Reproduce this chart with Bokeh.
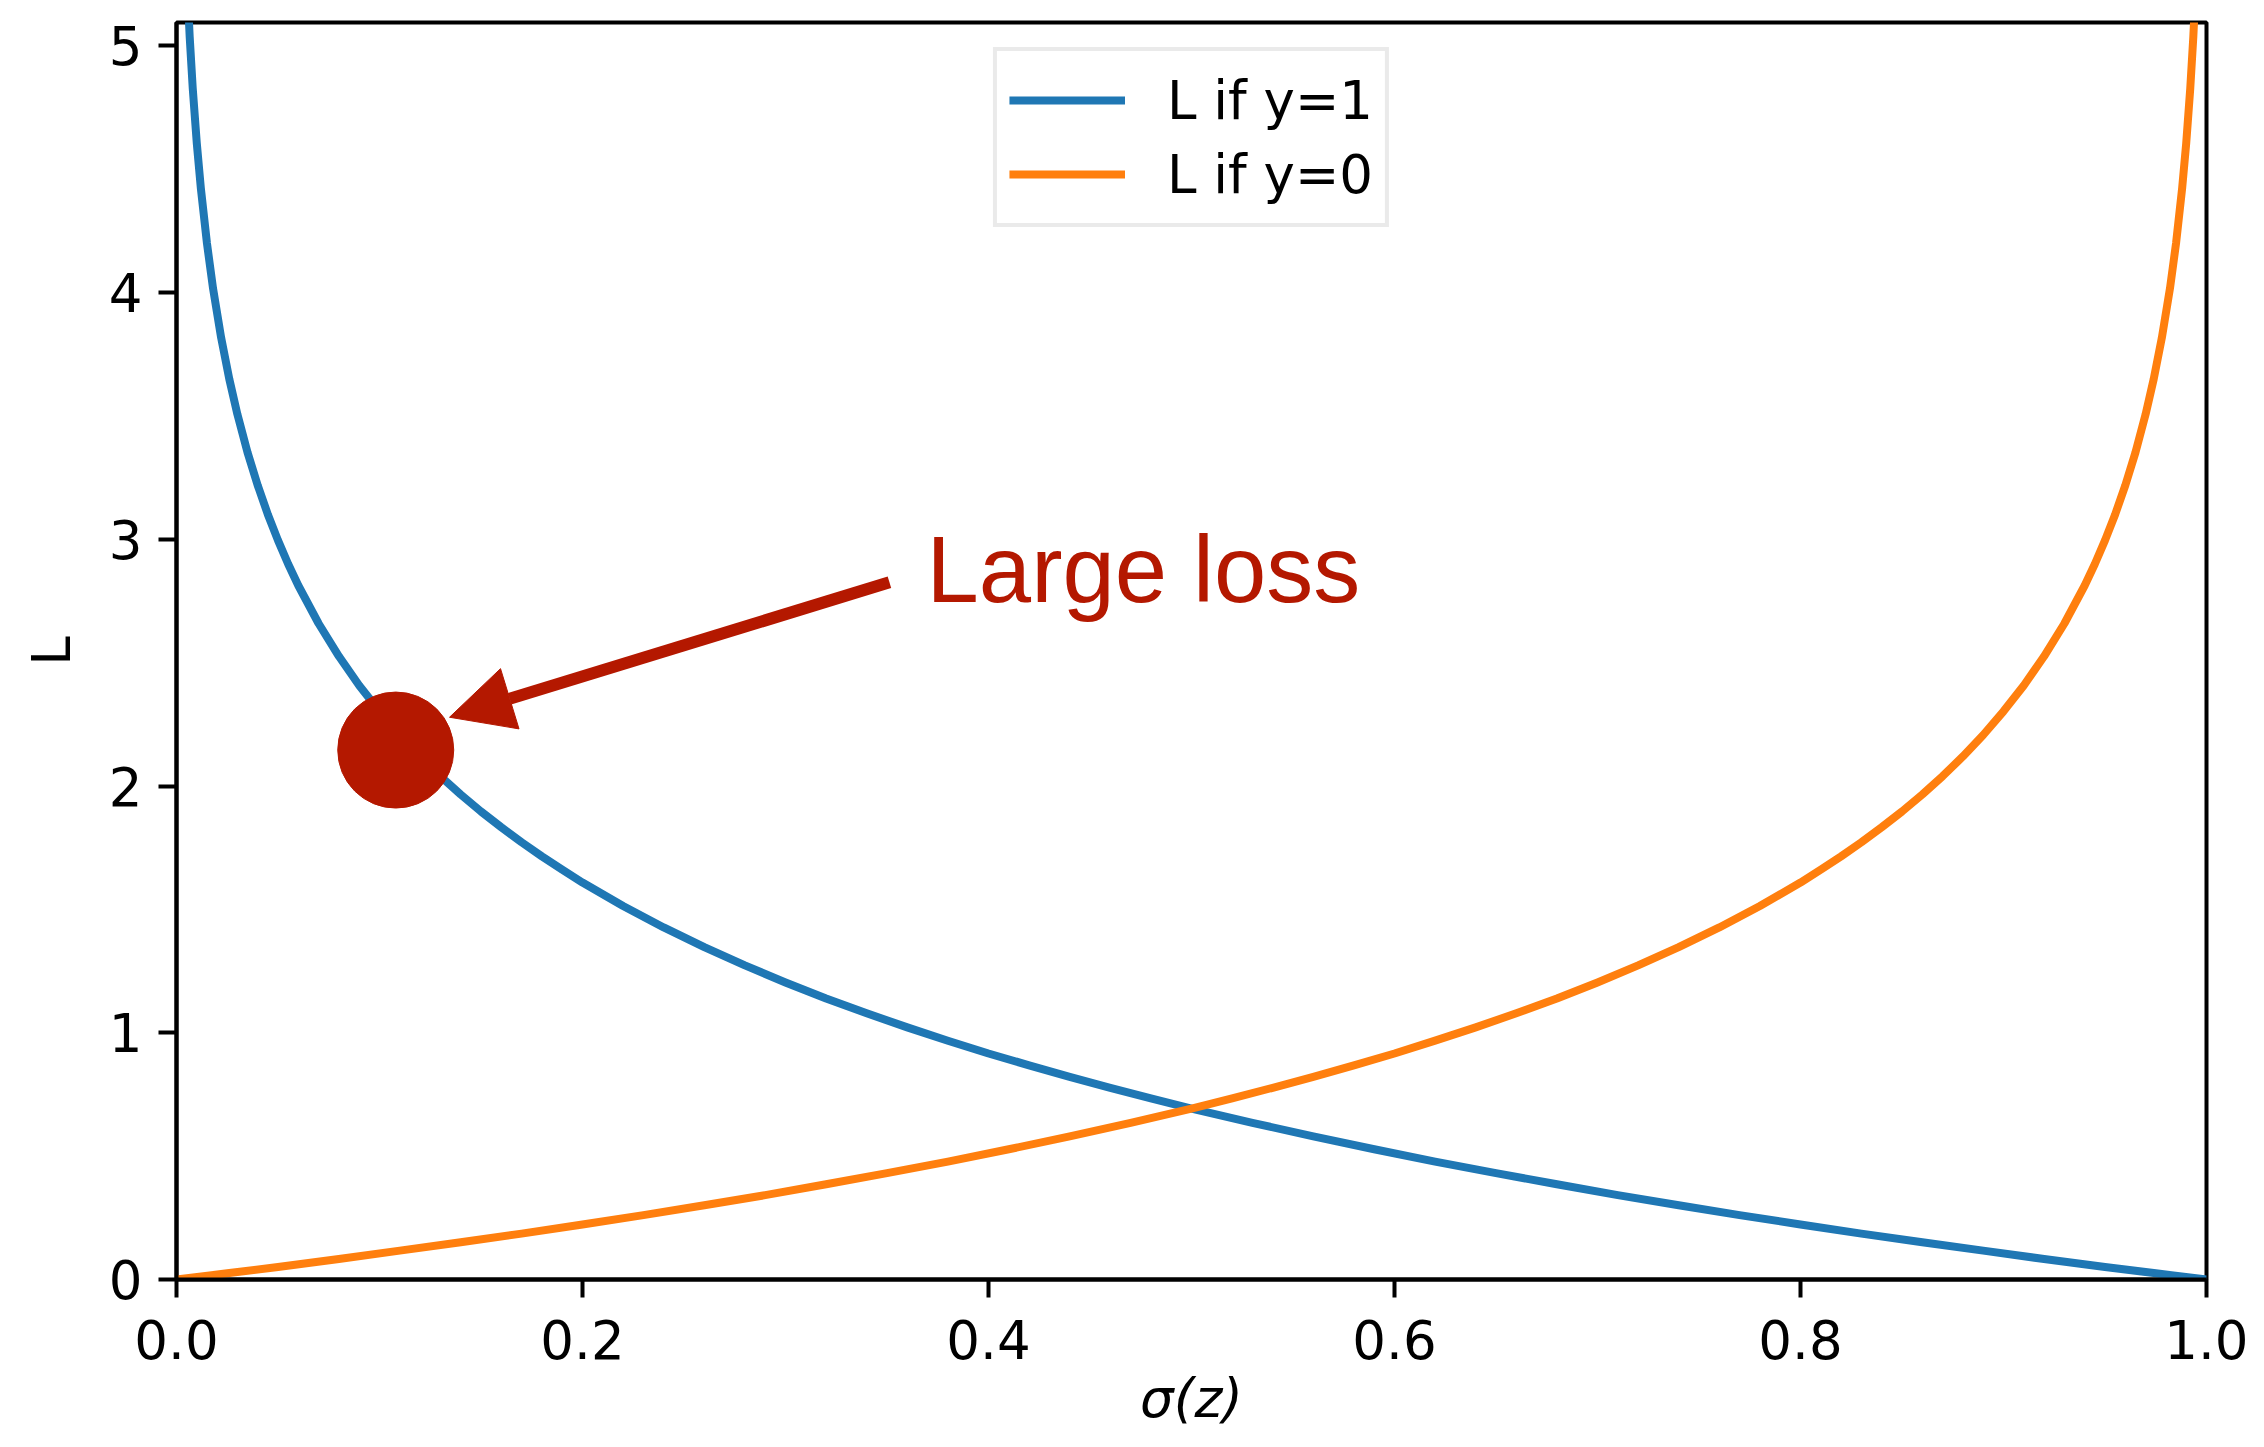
from bokeh.plotting import figure
from bokeh.models import Range1d, FixedTicker, Legend, LegendItem, Arrow, NormalHead
from bokeh.core.properties import value
from bokeh.embed import file_html
from bokeh.resources import INLINE

# ---- data ----
blue_x = [0.005, 0.0065, 0.008, 0.01, 0.012, 0.015, 0.018, 0.022, 0.026, 0.03,
          0.035, 0.04, 0.045, 0.05, 0.055, 0.06, 0.07, 0.08, 0.09, 0.1,
          0.11, 0.12, 0.13, 0.14, 0.15, 0.16, 0.17, 0.18, 0.19, 0.2,
          0.22, 0.24, 0.26, 0.28, 0.3, 0.32, 0.34, 0.36, 0.38, 0.4,
          0.42, 0.44, 0.46, 0.48, 0.5, 0.53, 0.56, 0.59, 0.62, 0.65,
          0.68, 0.71, 0.74, 0.77, 0.8, 0.83, 0.86, 0.89, 0.92, 0.95,
          0.975, 1.0]
blue_y = [5.298, 5.036, 4.828, 4.605, 4.423, 4.200, 4.017, 3.817, 3.650, 3.507,
          3.352, 3.219, 3.101, 2.996, 2.900, 2.813, 2.659, 2.526, 2.408, 2.303,
          2.207, 2.120, 2.040, 1.966, 1.897, 1.833, 1.772, 1.715, 1.661, 1.609,
          1.514, 1.427, 1.347, 1.273, 1.204, 1.139, 1.079, 1.022, 0.968, 0.916,
          0.868, 0.821, 0.777, 0.734, 0.693, 0.635, 0.580, 0.528, 0.478, 0.431,
          0.386, 0.342, 0.301, 0.261, 0.223, 0.186, 0.151, 0.117, 0.083, 0.051,
          0.025, 0.0]
orange_x = [0.0, 0.025, 0.05, 0.08, 0.11, 0.14, 0.17, 0.2, 0.23, 0.26,
            0.29, 0.32, 0.35, 0.38, 0.41, 0.44, 0.47, 0.5, 0.52, 0.54,
            0.56, 0.58, 0.6, 0.62, 0.64, 0.66, 0.68, 0.7, 0.72, 0.74,
            0.76, 0.78, 0.8, 0.81, 0.82, 0.83, 0.84, 0.85, 0.86, 0.87,
            0.88, 0.89, 0.9, 0.91, 0.92, 0.93, 0.94, 0.945, 0.95, 0.955,
            0.96, 0.965, 0.97, 0.974, 0.978, 0.982, 0.985, 0.988, 0.99, 0.992,
            0.9935, 0.995]
orange_y = [0.0, 0.025, 0.051, 0.083, 0.117, 0.151, 0.186, 0.223, 0.261, 0.301,
            0.342, 0.386, 0.431, 0.478, 0.528, 0.580, 0.635, 0.693, 0.734, 0.777,
            0.821, 0.868, 0.916, 0.968, 1.022, 1.079, 1.139, 1.204, 1.273, 1.347,
            1.427, 1.514, 1.609, 1.661, 1.715, 1.772, 1.833, 1.897, 1.966, 2.040,
            2.120, 2.207, 2.303, 2.408, 2.526, 2.659, 2.813, 2.900, 2.996, 3.101,
            3.219, 3.352, 3.507, 3.650, 3.817, 4.017, 4.200, 4.423, 4.605, 4.828,
            5.036, 5.298]
series_labels = ["L if y=1", "L if y=0"]

marker_x = [0.108]
marker_y = [2.146]
annot_text = ["Large loss"]
annot_x = [0.3695]
annot_y = [2.876]
arrow_start = (0.3512, 2.826)
arrow_end = (0.1345, 2.279)

x_ticks = [0.0, 0.2, 0.4, 0.6, 0.8, 1.0]
x_tick_labels = ["0.0", "0.2", "0.4", "0.6", "0.8", "1.0"]
y_ticks = [0, 1, 2, 3, 4, 5]
y_tick_labels = ["0", "1", "2", "3", "4", "5"]
x_axis_title = "σ(z)"
y_axis_title = "L"

RED = "#b41800"

p = figure(width=2248, height=1431, output_backend="svg", toolbar_location=None,
           x_range=Range1d(0, 1), y_range=Range1d(0, 5.095),
           min_border_left=176, min_border_right=42, min_border_top=22, min_border_bottom=151)
p.background_fill_color = "white"
p.border_fill_color = "white"
p.grid.visible = False
p.outline_line_color = "black"
p.outline_line_width = 4

r1 = p.line(blue_x, blue_y, line_color="#1f77b4", line_width=8, line_join="round")
r2 = p.line(orange_x, orange_y, line_color="#ff7f0e", line_width=8, line_join="round")

p.scatter(marker_x, marker_y, size=116, fill_color=RED, line_color=RED)

p.add_layout(Arrow(end=NormalHead(size=63, fill_color=RED, line_color=RED, line_width=1),
                   x_start=arrow_start[0], y_start=arrow_start[1],
                   x_end=arrow_end[0], y_end=arrow_end[1],
                   line_color=RED, line_width=12))

p.text(annot_x, annot_y, text=annot_text, text_font=value("Liberation Sans"),
       text_font_size="94px", text_color=RED, text_baseline="alphabetic", text_align="left")

for ax in (p.xaxis[0], p.yaxis[0]):
    ax.axis_line_width = 4
    ax.major_tick_line_width = 4
    ax.major_tick_out = 18
    ax.major_tick_in = 0
    ax.minor_tick_line_color = None
    ax.major_label_text_font = "DejaVu Sans"
    ax.major_label_text_font_size = "53px"
    ax.major_label_text_color = "black"
    ax.axis_label_text_font = "DejaVu Sans"
    ax.axis_label_text_font_size = "53px"
    ax.axis_label_text_color = "black"

p.xaxis.major_label_standoff = 22
p.yaxis.major_label_standoff = 16
p.xaxis.ticker = FixedTicker(ticks=x_ticks)
p.xaxis.major_label_overrides = {t: l for t, l in zip(x_ticks, x_tick_labels)}
p.yaxis.ticker = FixedTicker(ticks=y_ticks)
p.yaxis.major_label_overrides = {t: l for t, l in zip(y_ticks, y_tick_labels)}
p.xaxis.axis_label = x_axis_title
p.xaxis.axis_label_text_font_style = "italic"
p.xaxis.axis_label_standoff = 6
p.yaxis.axis_label = y_axis_title
p.yaxis.axis_label_text_font_style = "normal"
p.yaxis.axis_label_standoff = 24

legend = Legend(items=[LegendItem(label=series_labels[0], renderers=[r1]),
                       LegendItem(label=series_labels[1], renderers=[r2])],
                location="top_center", margin=25, padding=12, spacing=0,
                glyph_width=116, glyph_height=74, label_height=74, label_standoff=42,
                label_text_font="DejaVu Sans", label_text_font_size="53px",
                label_text_color="black", label_text_baseline="middle",
                border_line_color="#d6d6d6", border_line_width=4,
                background_fill_color="white", background_fill_alpha=1.0)
p.add_layout(legend, "center")

open("out.html", "w").write(file_html(p, INLINE))
